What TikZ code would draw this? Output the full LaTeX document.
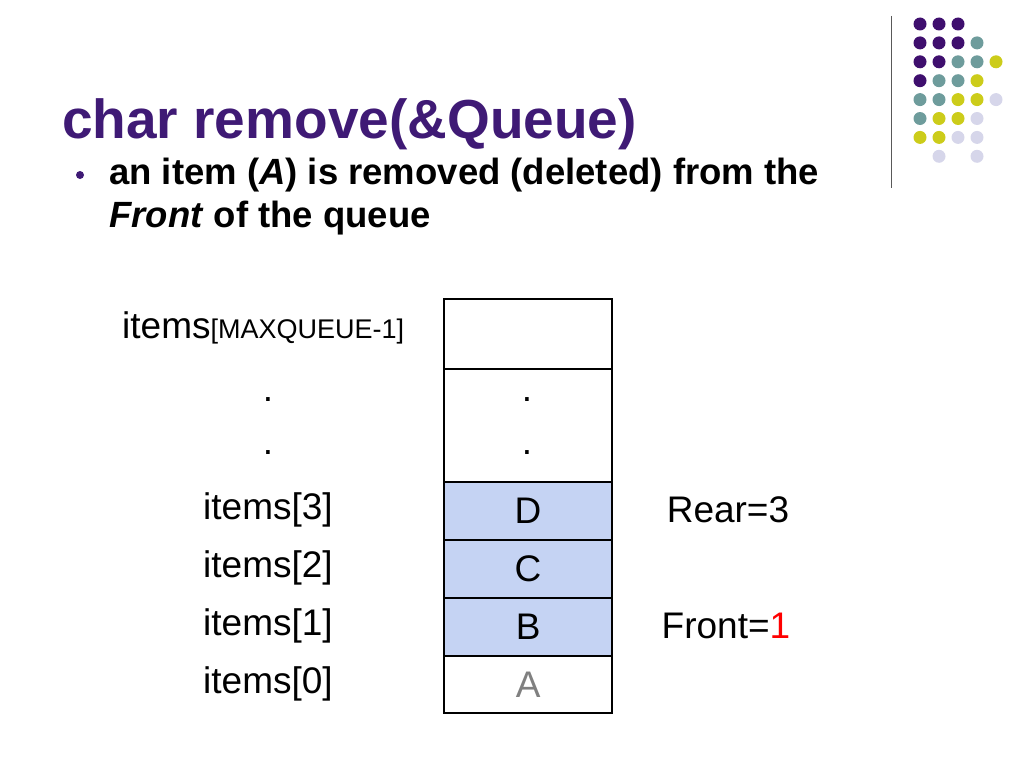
\documentclass[tikz,border=0pt]{standalone}
\usepackage{fontspec}
\setmainfont{Liberation Sans}
\begin{document}
\begin{tikzpicture}[x=1pt,y=-1pt,
 lab/.style={font=\fontsize{37}{40}\selectfont},
 cell/.style={draw=black,line width=2.2pt,minimum width=168pt,anchor=north west,inner sep=0pt,font=\fontsize{37}{40}\selectfont},
 dot/.style={circle,inner sep=0pt,minimum size=13pt}]
\useasboundingbox (0,0) rectangle (1024,768);
\definecolor{P}{HTML}{3F0F6E}\definecolor{T}{HTML}{6E9C9C}
\definecolor{Y}{HTML}{CCCC1A}\definecolor{L}{HTML}{D6D6EA}
\definecolor{tit}{HTML}{3F1A75}\definecolor{cb}{HTML}{C5D3F3}
\draw[gray!70!black,line width=0.8pt] (891,16) -- (891,188);
\foreach \r/\row in {0/{P,P,P},1/{P,P,P,T},2/{P,P,T,T,Y},3/{P,T,T,Y},4/{T,T,Y,Y,L},5/{T,Y,Y,L},6/{Y,Y,L,L},7/{N,L,N,L}}{
 \foreach \c [count=\i from 0] in \row {
  \if\c N\else\node[dot,fill=\c] (d\r\i) at ({920+19*\i},{24+18.9*\r}) {};\fi}}
\node[anchor=west,text=tit,font=\bfseries\fontsize{55}{60}\selectfont,inner sep=0pt] (title) at (62,124) {char remove(\&Queue)};
\node[circle,fill=tit,inner sep=0pt,minimum size=8pt] (bul) at (80,175) {};
\node[anchor=west,align=left,font=\bfseries\fontsize{36.5}{43}\selectfont,inner sep=0pt] (t1) at (109,175) {an item (\textit{A}) is removed (deleted) from the};
\node[anchor=west,align=left,font=\bfseries\fontsize{36.5}{43}\selectfont,inner sep=0pt] (t2) at (109,218) {\textit{Front} of the queue};
\node[cell,minimum height=70pt] (c5) at (443,298) {};
\node[cell,minimum height=113pt] (cd) at (443,368) {};
\node[cell,minimum height=58pt,fill=cb] (c3) at (443,481) {D};
\node[cell,minimum height=58pt,fill=cb] (c2) at (443,539) {C};
\node[cell,minimum height=58pt,fill=cb] (c1) at (443,597) {B};
\node[cell,minimum height=57pt] (c0) at (443,655) {\textcolor{gray}{A}};
\node[lab] (dt1) at (527,400) {.};\node[lab] (dt2) at (527,453) {.};
\node[lab] (ld1) at (268,400) {.};\node[lab] (ld2) at (268,453) {.};
\node[lab,anchor=west,inner sep=0pt] (lm) at (122,328) {items{\fontsize{27}{30}\selectfont[MAXQUEUE-1]}};
\node[lab] (l3) at (268,510) {items[3]};
\node[lab] (l2) at (268,568) {items[2]};
\node[lab] (l1) at (268,626) {items[1]};
\node[lab] (l0) at (268,684) {items[0]};
\node[lab] (rear) at (728,510) {Rear=3};
\node[lab] (front) at (726,626) {Front=\textcolor{red}{1}};
\end{tikzpicture}
\end{document}
